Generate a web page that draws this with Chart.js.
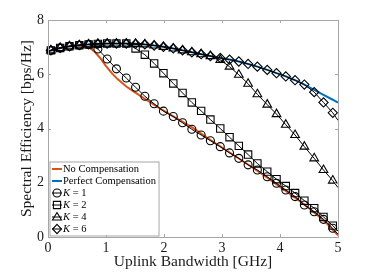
<!DOCTYPE html>
<html>
<head>
<meta charset="utf-8">
<script src="https://cdn.jsdelivr.net/npm/chart.js@4.4.1/dist/chart.umd.min.js"></script>
<style>
  html, body { margin: 0; padding: 0; background: #fff; }
</style>
</head>
<body>
<canvas id="se-chart" width="374" height="275"></canvas>
<script>
"use strict";

// x positions of the marker curves (GHz), ends at 0 and 5 carry no marker
const curveX = [0, 0.05, 0.21, 0.37, 0.54, 0.70, 0.86, 1.02, 1.18, 1.35, 1.51, 1.67, 1.83, 1.99, 2.16, 2.32,
  2.48, 2.64, 2.80, 2.97, 3.13, 3.29, 3.45, 3.61, 3.78, 3.94, 4.10, 4.26, 4.42, 4.59, 4.75, 4.91, 5.0];

const perfectComp = [6.84, 6.88, 6.97, 7.03, 7.07, 7.10, 7.12, 7.13, 7.13, 7.13, 7.12, 7.10, 7.06, 7.01, 6.95, 6.88,
  6.81, 6.74, 6.67, 6.60, 6.54, 6.47, 6.38, 6.28, 6.16, 6.04, 5.92, 5.78, 5.62, 5.42, 5.24, 5.06, 4.95];

const k1 = [6.84, 6.88, 6.97, 7.03, 7.07, 7.10, 6.93, 6.56, 6.20, 5.86, 5.52, 5.19, 4.91, 4.64, 4.44, 4.21,
  3.97, 3.76, 3.55, 3.33, 3.10, 2.90, 2.66, 2.47, 2.22, 1.98, 1.73, 1.49, 1.18, 0.93, 0.65, 0.32, 0.10];

const k2 = [6.84, 6.88, 6.97, 7.03, 7.07, 7.10, 7.12, 7.13, 7.13, 7.13, 6.95, 6.72, 6.40, 6.04, 5.66, 5.31,
  4.96, 4.65, 4.33, 4.00, 3.68, 3.36, 3.04, 2.71, 2.41, 2.13, 1.88, 1.62, 1.34, 1.06, 0.74, 0.42, 0.22];

const k4 = [6.84, 6.88, 6.97, 7.03, 7.07, 7.10, 7.12, 7.13, 7.13, 7.13, 7.12, 7.10, 7.06, 7.01, 6.95, 6.88,
  6.81, 6.74, 6.67, 6.53, 6.28, 5.98, 5.65, 5.26, 4.88, 4.53, 4.14, 3.76, 3.33, 2.90, 2.47, 2.08, 1.82];

const k6 = [6.84, 6.88, 6.97, 7.03, 7.07, 7.10, 7.12, 7.13, 7.13, 7.13, 7.12, 7.10, 7.06, 7.01, 6.95, 6.88,
  6.81, 6.74, 6.67, 6.60, 6.54, 6.47, 6.38, 6.28, 6.16, 6.04, 5.92, 5.78, 5.62, 5.34, 4.96, 4.58, 4.30];

const noCompX = [0, 0.2, 0.4, 0.6, 0.7, 0.8, 0.9, 1.0, 1.1, 1.2, 1.35, 1.5, 1.7, 1.9, 2.1, 2.3, 2.5, 2.75,
  3.0, 3.25, 3.5, 3.75, 4.0, 4.25, 4.5, 4.75, 5.0];
const noComp = [6.84, 6.96, 7.03, 7.05, 7.00, 6.84, 6.60, 6.30, 6.04, 5.82, 5.55, 5.33, 5.05, 4.78, 4.52, 4.27,
  4.02, 3.65, 3.30, 2.95, 2.60, 2.23, 1.85, 1.47, 1.06, 0.62, 0.06];

const xTicks = [0, 1, 2, 3, 4, 5];
const yTicks = [0, 2, 4, 6, 8];

const serif = '"Liberation Serif", "DejaVu Serif", serif';
const frameColor = '#a6a6a6';

const toPoints = (xs, ys) => xs.map((x, i) => ({ x, y: ys[i] }));
const markerRadii = (xs, r) => xs.map((x, i) => (i === 0 || i === xs.length - 1 ? 0 : r));

const kSeries = [
  { k: 1, values: k1, style: 'circle', radius: 4 },
  { k: 2, values: k2, style: 'rect', radius: 5.2 },
  { k: 4, values: k4, style: 'triangle', radius: 5 },
  { k: 6, values: k6, style: 'rectRot', radius: 4.6 },
];

const datasets = [
  {
    label: 'No Compensation',
    data: toPoints(noCompX, noComp),
    borderColor: '#D95319',
    borderWidth: 2,
    pointRadius: 0,
    order: 6,
  },
  {
    label: 'Perfect Compensation',
    data: toPoints(curveX, perfectComp),
    borderColor: '#0072BD',
    borderWidth: 2,
    pointRadius: 0,
    order: 5,
  },
  ...kSeries.map((s, i) => ({
    label: `K = ${s.k}`,
    data: toPoints(curveX, s.values),
    borderColor: '#000',
    borderWidth: 1,
    pointStyle: s.style,
    pointRadius: markerRadii(curveX, s.radius),
    pointBorderColor: '#000',
    pointBackgroundColor: 'rgba(0,0,0,0)',
    pointBorderWidth: 1.1,
    order: 4 - i,
  })),
];

// gray box with inward ticks on all four sides
const framePlugin = {
  id: 'frame',
  afterDatasetsDraw(chart) {
    const { ctx, chartArea: a, scales } = chart;
    const len = 3;
    ctx.save();
    ctx.strokeStyle = frameColor;
    ctx.lineWidth = 1;
    ctx.strokeRect(a.left + 0.5, a.top + 0.5, a.right - a.left, a.bottom - a.top);
    ctx.beginPath();
    xTicks.forEach((t) => {
      const px = Math.round(scales.x.getPixelForValue(t)) + 0.5;
      ctx.moveTo(px, a.bottom);
      ctx.lineTo(px, a.bottom - len);
      ctx.moveTo(px, a.top);
      ctx.lineTo(px, a.top + len);
    });
    yTicks.forEach((t) => {
      const py = Math.round(scales.y.getPixelForValue(t)) + 0.5;
      ctx.moveTo(a.left, py);
      ctx.lineTo(a.left + len, py);
      ctx.moveTo(a.right, py);
      ctx.lineTo(a.right - len, py);
    });
    ctx.stroke();
    ctx.restore();
  },
};

const drawMarker = (ctx, style, x, y) => {
  ctx.beginPath();
  if (style === 'circle') {
    ctx.arc(x, y, 4, 0, Math.PI * 2);
  } else if (style === 'rect') {
    ctx.rect(x - 3.6, y - 3.6, 7.2, 7.2);
  } else if (style === 'triangle') {
    ctx.moveTo(x, y - 4.5);
    ctx.lineTo(x + 4.5, y + 3);
    ctx.lineTo(x - 4.5, y + 3);
    ctx.closePath();
  } else {
    ctx.moveTo(x, y - 4.6);
    ctx.lineTo(x + 4.4, y);
    ctx.lineTo(x, y + 4.6);
    ctx.lineTo(x - 4.4, y);
    ctx.closePath();
  }
  ctx.stroke();
};

// legend box in the lower-left corner of the axes
const legendPlugin = {
  id: 'cornerLegend',
  afterDraw(chart) {
    const { ctx, chartArea: a } = chart;
    const font = `10.5px ${serif}`;
    const italic = `italic 10.5px ${serif}`;
    const rowH = 12;
    const entries = [
      { text: 'No Compensation', color: '#D95319' },
      { text: 'Perfect Compensation', color: '#0072BD' },
      ...kSeries.map((s) => ({ k: s.k, style: s.style })),
    ];
    ctx.save();
    ctx.font = font;
    const textW = ctx.measureText('Perfect Compensation').width;
    const left = a.left + 1.5;
    const height = rowH * entries.length + 2;
    const top = a.bottom - 1.5 - height;
    const width = 14 + textW + 2;
    ctx.fillStyle = '#fff';
    ctx.fillRect(left, top, width, height);
    ctx.strokeStyle = frameColor;
    ctx.lineWidth = 1;
    ctx.strokeRect(left + 0.5, top + 0.5, width, height);

    entries.forEach((e, i) => {
      const y = top + 7.5 + i * rowH;
      const sx = left + 2.5;
      ctx.beginPath();
      ctx.moveTo(sx, y);
      ctx.lineTo(sx + 10, y);
      ctx.lineWidth = e.color ? 2 : 1;
      ctx.strokeStyle = e.color || '#000';
      ctx.stroke();
      if (e.style) {
        ctx.lineWidth = 1.1;
        drawMarker(ctx, e.style, sx + 5, y);
      }
      ctx.fillStyle = '#000';
      ctx.textBaseline = 'middle';
      const tx = left + 13.5;
      if (e.text) {
        ctx.font = font;
        ctx.fillText(e.text, tx, y);
      } else {
        ctx.font = italic;
        ctx.fillText('K', tx, y);
        const kw = ctx.measureText('K').width;
        ctx.font = font;
        ctx.fillText(` = ${e.k}`, tx + kw, y);
      }
    });
    ctx.restore();
  },
};

new Chart(document.getElementById('se-chart'), {
  type: 'line',
  data: { datasets },
  options: {
    responsive: false,
    animation: false,
    devicePixelRatio: 1,
    layout: { padding: { top: 20, right: 36, left: 0, bottom: 0 } },
    elements: { line: { tension: 0 } },
    datasets: { line: { clip: false } },
    scales: {
      x: {
        type: 'linear',
        min: 0,
        max: 5,
        afterFit: (scale) => { scale.height = 38; },
        afterBuildTicks: (scale) => { scale.ticks = xTicks.map((v) => ({ value: v })); },
        grid: { display: false, drawTicks: false },
        border: { display: false },
        ticks: { color: '#1a1a1a', padding: 3, font: { family: serif, size: 14 } },
        title: {
          display: true,
          text: 'Uplink Bandwidth [GHz]',
          color: '#1a1a1a',
          padding: { top: 0, bottom: 4 },
          font: { family: serif, size: 15.5 },
        },
      },
      y: {
        min: 0,
        max: 8,
        afterFit: (scale) => { scale.width = 48; },
        afterBuildTicks: (scale) => { scale.ticks = yTicks.map((v) => ({ value: v })); },
        grid: { display: false, drawTicks: false },
        border: { display: false },
        ticks: { color: '#1a1a1a', padding: 4, font: { family: serif, size: 14 } },
        title: {
          display: true,
          text: 'Spectral Efficiency [bps/Hz]',
          color: '#1a1a1a',
          padding: { top: 18, bottom: 0 },
          font: { family: serif, size: 15.5 },
        },
      },
    },
    plugins: {
      legend: { display: false },
      tooltip: { enabled: false },
    },
  },
  plugins: [framePlugin, legendPlugin],
});
</script>
</body>
</html>
